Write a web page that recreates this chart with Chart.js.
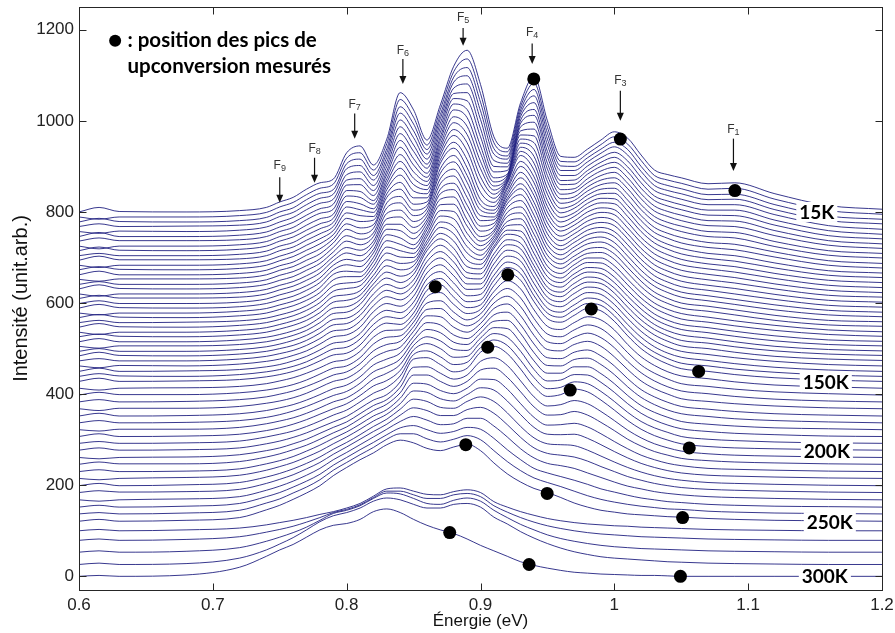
<!DOCTYPE html>
<html>
<head>
<meta charset="utf-8">
<script src="https://cdn.jsdelivr.net/npm/chart.js@4.4.1/dist/chart.umd.min.js"></script>
<style>
  html, body { margin: 0; padding: 0; background: #fff; }
  canvas { display: block; }
</style>
</head>
<body>
<canvas id="chart" width="895" height="633"></canvas>
<script>
// Energies (eV) at which every spectrum is read
const energies = [0.60, 0.615, 0.63, 0.68, 0.72,
  0.74, 0.75, 0.76, 0.77, 0.78, 0.79, 0.80, 0.81, 0.82, 0.83, 0.84, 0.85, 0.86, 0.87, 0.88, 0.89,
  0.90, 0.91, 0.92, 0.93, 0.94, 0.95, 0.96, 0.97, 0.98, 0.99, 1.00, 1.01, 1.02, 1.03, 1.04, 1.05,
  1.07, 1.09, 1.12, 1.16, 1.20];

// Vertical shift of each spectrum in the waterfall, top (15K) to bottom (300K)
const offsets = [800, 789, 778, 768, 757, 746, 736, 725, 715, 704, 694, 683, 673, 662, 652, 641, 631, 620,
  610, 599, 589, 578, 568, 557, 547, 536, 526, 515, 505, 494, 484, 473, 462, 450, 439, 428,
  413, 398, 383, 368, 352, 337, 322, 307, 292, 277,
  261, 246, 230, 215, 199, 184, 168, 152, 137, 121,
  100, 79, 53, 26, 0];

// Intensity above the shift, one row per spectrum (same order as offsets)
const spectra = [
  [0,10,1,0,3, 10,22,32,50,64,72, 130,145,103,160,262,224, 158,235,320,355,280,165, 140,240,298,200,122,120, 138,158,176,162,125,92,82,75, 62,64,40,14,6], // 15K
  [0,-5,0,0,3, 10,22,32,49,63,72, 129,141,103,161,258,219, 158,236,319,347,271,163, 143,243,294,197,122,121, 139,159,176,160,124,91,81,74, 61,63,39,14,6],
  [0,8,1,0,3, 10,22,31,49,63,71, 128,138,102,161,253,215, 159,236,318,339,263,161, 145,246,291,195,123,122, 141,160,175,159,122,91,80,73, 60,61,38,13,6],
  [0,6,0,1,3, 10,22,31,48,62,71, 127,134,102,162,249,210, 159,237,317,331,254,159, 148,249,287,192,123,123, 142,161,175,157,121,90,79,72, 59,60,37,13,6],
  [0,-4,1,0,3, 10,21,31,48,62,71, 125,131,101,163,245,206, 159,238,315,324,246,156, 150,253,283,190,123,123, 144,162,174,155,119,90,79,71, 59,59,37,13,5],
  [0,9,0,0,3, 10,21,31,47,61,71, 124,127,101,164,241,201, 159,239,314,316,237,154, 153,256,279,187,123,124, 145,163,174,153,118,89,78,70, 58,58,36,13,5],
  [0,7,1,1,3, 10,21,30,47,61,70, 123,124,100,164,236,197, 160,239,313,308,229,152, 155,259,276,185,124,125, 147,164,173,152,116,89,77,69, 57,56,35,12,5],
  [0,-6,0,0,3, 10,21,30,46,60,70, 122,120,100,165,232,192, 160,240,312,300,220,150, 158,262,272,182,124,126, 148,165,173,150,115,88,76,68, 56,55,34,12,5],
  [0,8,1,0,3, 10,21,30,45,59,71, 120,117,102,167,227,188, 161,242,309,292,214,151, 165,263,267,179,124,128, 149,165,172,148,114,87,75,66, 55,53,33,12,5],
  [0,5,0,0,3, 10,21,29,45,59,73, 119,114,103,169,222,184, 163,244,305,284,207,153, 173,265,263,176,125,129, 151,166,171,147,112,86,73,65, 53,51,31,11,5],
  [0,9,1,1,3, 10,21,29,44,58,74, 117,111,105,171,217,180, 164,246,302,276,201,154, 180,266,258,173,125,131, 152,166,170,145,111,85,72,63, 52,49,30,11,5],
  [0,-5,0,0,3, 10,20,29,44,58,76, 115,109,107,174,213,177, 166,249,298,269,194,156, 188,268,254,169,125,133, 154,167,169,143,109,83,70,61, 50,46,29,10,4],
  [0,7,1,0,3, 10,20,29,43,57,77, 113,106,109,176,208,173, 167,251,295,261,188,157, 195,269,249,166,125,135, 155,167,168,141,108,82,69,59, 49,44,28,10,4],
  [0,8,0,0,3, 10,20,28,43,57,79, 112,103,110,178,203,169, 169,253,291,253,181,159, 203,271,245,163,126,136, 157,168,167,140,106,81,67,58, 47,42,26,9,4],
  [0,-4,1,1,3, 10,20,28,42,56,80, 110,100,112,180,198,165, 170,255,288,245,175,160, 210,272,240,160,126,138, 158,168,166,138,105,80,66,56, 46,40,25,9,4],
  [0,6,0,0,3, 10,20,28,41,56,81, 107,99,113,179,193,163, 173,254,283,239,174,163, 214,270,236,159,126,139, 159,168,164,136,103,79,65,55, 45,39,24,9,4],
  [0,9,1,0,3, 10,19,27,41,56,81, 105,97,115,178,189,161, 176,254,279,234,173,166, 219,269,233,157,127,140, 159,168,163,134,102,77,63,53, 44,37,23,8,3],
  [0,-5,0,0,3, 10,19,27,40,56,82, 102,96,116,177,184,159, 179,253,274,228,172,169, 223,267,229,156,127,141, 160,168,161,132,100,76,62,52, 43,36,22,8,3],
  [0,7,1,1,3, 10,19,27,40,56,83, 100,94,118,175,179,156, 181,252,269,222,171,173, 227,265,226,154,127,142, 160,167,160,131,99,74,60,50, 41,34,21,7,3],
  [0,6,0,0,3, 10,19,27,39,56,84, 97,93,119,174,174,154, 184,251,264,216,170,176, 231,263,222,153,127,143, 161,167,158,129,97,73,59,49, 40,33,20,7,3],
  [0,8,1,0,3, 10,18,26,39,56,84, 95,91,121,173,170,152, 187,251,260,211,169,179, 236,262,219,151,128,144, 161,167,157,127,96,71,57,47, 39,31,19,6,2],
  [0,-4,0,0,4, 10,18,26,38,56,85, 92,90,122,172,165,150, 190,250,255,205,168,182, 240,260,215,150,128,145, 162,167,155,125,94,70,56,46, 38,30,18,6,2],
  [0,7,1,0,4, 10,18,26,38,55,83, 90,90,123,169,161,151, 193,248,249,201,168,187, 241,257,211,149,128,146, 162,166,153,123,92,69,55,45, 37,29,17,6,2],
  [0,5,0,1,4, 10,17,25,37,55,81, 87,91,124,166,158,152, 196,246,244,196,169,191, 242,254,208,148,129,146, 162,165,151,121,91,67,53,43, 36,28,16,5,2],
  [0,8,1,0,4, 10,17,25,37,54,79, 85,91,125,163,154,153, 199,244,238,192,169,196, 243,251,204,147,129,147, 162,164,149,119,89,66,52,42, 35,27,15,5,2],
  [0,-5,0,0,4, 10,17,25,36,54,78, 82,91,125,159,151,155, 201,242,232,188,169,201, 243,249,201,145,129,148, 163,163,146,116,87,64,50,41, 33,25,15,5,1],
  [0,6,1,0,4, 10,17,25,36,53,76, 80,91,126,156,147,156, 204,240,226,184,169,206, 244,246,197,144,129,149, 163,162,144,114,85,63,49,39, 32,24,14,5,1],
  [0,7,0,0,4, 10,16,24,35,53,74, 77,92,127,153,144,157, 207,238,221,179,170,210, 245,243,194,143,130,149, 163,161,142,112,84,61,47,38, 31,23,13,4,1],
  [0,-4,1,1,4, 10,16,24,35,52,72, 75,92,128,150,140,158, 210,236,215,175,170,215, 246,240,190,142,130,150, 163,160,140,110,82,60,46,37, 30,22,12,4,1],
  [0,6,0,0,4, 10,16,24,35,51,70, 73,90,126,147,138,157, 209,233,211,173,170,214, 245,237,188,141,130,149, 163,159,139,109,81,59,45,36, 29,21,11,4,1],
  [0,8,1,0,4, 10,16,23,34,50,68, 71,89,123,144,136,156, 207,229,206,171,169,214, 244,235,186,141,130,149, 162,159,138,107,79,58,44,34, 28,20,11,4,1],
  [0,5,0,0,4, 10,16,23,34,49,66, 69,87,121,141,134,155, 206,226,202,169,169,213, 243,232,184,140,130,148, 162,158,137,106,78,57,43,33, 27,19,10,4,1],
  [0,-4,1,0,4, 10,15,23,33,48,64, 68,85,119,137,131,153, 204,222,198,168,169,212, 241,230,181,140,130,147, 161,157,135,104,76,55,41,32, 25,18,10,3,0],
  [0,7,0,1,4, 10,15,23,33,47,62, 66,83,117,134,129,152, 203,219,194,166,169,211, 240,227,179,139,130,146, 161,156,134,103,75,54,40,31, 24,17,9,3,0],
  [0,6,1,0,4, 10,15,22,32,46,60, 64,82,114,131,127,151, 201,215,189,164,168,211, 239,225,177,139,130,146, 160,156,133,101,73,53,39,29, 23,16,9,3,0],
  [0,7,0,1,4, 10,15,22,32,45,58, 62,80,112,128,125,150, 200,212,185,162,168,210, 238,222,175,138,130,145, 160,155,132,100,72,52,38,28, 22,15,8,3,0], // 150K
  [0,-4,0,1,4, 10,16,23,33,45,58, 63,81,112,127,128,155, 201,210,184,164,173,212, 236,218,172,136,129,144, 157,150,128,96,69,50,36,27, 21,14,7,3,0],
  [0,6,1,1,5, 11,16,23,33,46,59, 64,82,112,127,130,160, 202,207,182,165,178,215, 234,213,168,134,128,143, 154,146,123,93,66,48,35,25, 19,13,7,3,0],
  [0,5,0,1,5, 11,17,24,34,46,59, 66,84,112,126,133,165, 203,205,181,167,182,217, 232,209,165,132,128,142, 151,141,119,89,64,46,33,24, 18,12,6,2,0],
  [0,-4,1,1,5, 12,17,24,34,47,60, 67,85,112,126,135,170, 204,202,179,168,187,220, 230,204,161,130,127,141, 148,137,114,86,61,44,32,22, 16,11,6,2,0],
  [0,6,0,1,5, 12,18,25,35,47,60, 68,86,112,125,138,175, 205,200,178,170,192,222, 228,200,158,128,126,140, 145,132,110,82,58,42,30,21, 15,10,5,2,0],
  [0,5,0,1,5, 12,18,26,36,48,60, 69,87,112,124,140,180, 205,198,177,172,197,223, 225,196,154,126,125,139, 142,128,106,79,56,40,28,20, 14,9,5,2,0],
  [0,-3,1,1,5, 13,19,26,36,48,61, 70,88,111,124,143,185, 204,195,176,174,201,224, 222,191,151,124,124,138, 138,123,101,75,53,38,27,18, 12,8,4,2,0],
  [0,6,0,1,5, 13,19,27,37,49,61, 72,90,111,123,145,190, 204,193,174,176,206,226, 218,187,147,122,124,136, 135,119,97,72,51,36,25,17, 11,7,4,1,0],
  [0,4,0,1,5, 14,20,27,37,49,62, 73,91,110,123,148,195, 203,190,173,178,210,227, 215,182,144,120,123,135, 131,114,92,68,48,34,24,15, 9,6,3,1,0],
  [0,5,0,1,5, 14,20,28,38,50,62, 74,92,110,122,150,200, 203,188,172,180,215,228, 212,178,140,118,122,134, 128,110,88,65,46,32,22,14, 8,5,3,1,0], // 200K
  [0,-3,0,1,6, 15,21,30,40,53,66, 78,96,114,127,154,198, 199,185,172,181,211,219, 202,168,133,113,116,125, 118,101,81,60,43,30,21,14, 8,5,3,1,0],
  [0,5,1,1,6, 16,23,32,42,55,69, 82,100,118,132,157,196, 196,182,171,182,207,211, 191,159,126,108,109,116, 108,92,74,55,40,28,20,13, 8,5,3,1,0],
  [0,4,0,1,6, 17,24,33,45,58,73, 87,104,122,136,161,194, 192,178,171,183,203,202, 181,149,119,102,103,106, 98,83,66,50,36,26,18,13, 7,5,3,1,0],
  [0,-3,0,2,7, 18,26,35,47,60,76, 91,108,126,141,164,192, 189,175,170,184,199,194, 170,140,112,97,96,97, 88,74,59,45,33,24,17,12, 7,5,3,1,0],
  [0,5,0,2,7, 19,27,37,49,63,80, 95,112,130,146,168,190, 185,172,170,185,195,185, 160,130,105,92,90,88, 78,65,52,40,30,22,16,12, 7,5,3,1,0],
  [0,4,1,2,7, 20,29,39,52,66,84, 100,117,134,150,170,186, 180,169,169,182,187,174, 149,121,98,86,82,78, 69,57,46,35,27,20,15,11, 7,5,3,1,0],
  [0,-3,0,2,7, 21,30,41,54,69,88, 104,121,138,155,172,183, 175,165,167,179,179,162, 138,112,92,80,75,69, 59,49,39,30,24,18,14,11, 7,5,3,1,0],
  [0,4,0,2,8, 23,32,44,57,72,92, 109,126,142,159,174,179, 170,162,166,175,171,151, 126,104,85,75,67,59, 50,40,33,26,20,16,12,10, 6,4,2,1,0],
  [0,3,0,2,8, 24,33,46,59,75,96, 113,130,146,164,176,176, 165,158,164,172,163,139, 115,95,79,69,60,50, 40,32,26,21,17,14,11,10, 6,4,2,1,0],
  [0,4,0,2,8, 25,35,48,62,78,100, 118,135,150,168,178,172, 160,155,163,169,155,128, 104,86,72,63,52,40, 31,24,20,16,14,12,10,9, 6,4,2,1,0], // 250K
  [0,3,0,2,6, 13,18,23,29,36,42, 50,60,76,92,94,87, 80,79,86,90,84,64, 52,42,34,27,22,18, 15,13,11,10,8,7,6,5, 3,2,1,0,0],
  [0,3,0,2,8, 18,24,31,40,50,61, 68,78,94,108,108,100, 92,92,100,103,96,76, 62,50,40,32,26,21, 17,14,12,10,8,7,6,5, 3,2,1,0,0],
  [0,3,0,2,10, 24,33,43,55,70,85, 92,102,118,130,128,118, 107,105,114,119,112,92, 76,61,49,38,30,24, 19,15,12,10,8,7,6,5, 3,2,1,0,0],
  [0,3,0,2,14, 32,45,59,76,94,107, 114,124,139,146,142,132, 124,124,132,134,126,104, 89,72,58,46,36,28, 22,17,14,12,10,8,6,5, 3,2,1,0,0],
  [0,2,0,3,20, 44,58,70,86,102,112, 116,125,142,148,140,125, 112,102,94,82,68,56, 44,32,24,18,13,9, 7,5,4,3,2,2,1,0, 0,0,0,0,0]  // 300K
];

// Measured upconversion peak positions (black dots)
const peakX = [0.9398, 1.0045, 1.0901, 0.8662, 0.9204, 0.9828, 0.9054, 1.063, 0.967, 0.889, 1.056, 0.9498, 1.051, 0.877, 0.9363, 1.0494];
const peakY = [1092, 960, 847, 636, 662, 587, 503, 450, 409, 289, 282, 182, 129, 96, 26, 0];

// Temperature labels at the right end of some spectra
const tempLabels = ['15K', '150K', '200K', '250K', '300K'];
const tempLabelX = [1.1513, 1.1580, 1.1588, 1.1610, 1.1573];
const tempLabelY = [800, 427, 276, 119, 1];

// Feature arrows F9 ... F1
const featureIdx = ['9', '8', '7', '6', '5', '4', '3', '1'];
const featureX = [0.750, 0.776, 0.806, 0.842, 0.887, 0.9386, 1.0045, 1.089];
const featureLabelY = [902, 939, 1035, 1154, 1226, 1194, 1088, 980];
const featureArrowTop = [876, 919, 1016, 1136, 1204, 1170, 1066, 961];
const featureArrowEnd = [820, 864, 961, 1081, 1165, 1125, 1000, 890];

const xTicks = [0.6, 0.7, 0.8, 0.9, 1.0, 1.1, 1.2];
const yTicks = [0, 200, 400, 600, 800, 1000, 1200];

const curveSets = spectra.map((row, k) => ({
  data: row.map((v, i) => ({ x: energies[i], y: offsets[k] + v })),
  borderColor: 'rgba(34,34,130,0.9)',
  borderWidth: 1,
  pointRadius: 0,
  cubicInterpolationMode: 'monotone',
  order: 2
}));

const dotSet = {
  data: peakX.map((x, i) => ({ x: x, y: peakY[i] })),
  showLine: false,
  pointRadius: 6.5,
  pointBackgroundColor: '#000',
  pointBorderWidth: 0,
  order: 1
};

const axisFont = 'Liberation Sans, Arial, sans-serif';

const decor = {
  id: 'decor',
  afterDatasetsDraw(chart) {
    const { ctx, scales: { x, y } } = chart;
    ctx.save();

    // temperature labels on white boxes
    ctx.font = 'bold 19px Lato';
    ctx.textAlign = 'center';
    ctx.textBaseline = 'middle';
    tempLabels.forEach((t, i) => {
      const cx = x.getPixelForValue(tempLabelX[i]);
      const cy = y.getPixelForValue(tempLabelY[i]);
      const w = ctx.measureText(t).width;
      ctx.fillStyle = '#fff';
      ctx.fillRect(cx - w / 2 - 3, cy - 10, w + 6, 20);
      ctx.fillStyle = '#000';
      ctx.fillText(t, cx, cy + 1);
    });

    // F labels and arrows
    featureIdx.forEach((n, i) => {
      const cx = x.getPixelForValue(featureX[i]);
      const ly = y.getPixelForValue(featureLabelY[i]);
      const y0 = y.getPixelForValue(featureArrowTop[i]);
      const y1 = y.getPixelForValue(featureArrowEnd[i]);
      ctx.font = '12px ' + axisFont;
      const wF = ctx.measureText('F').width;
      ctx.font = '9px ' + axisFont;
      const wN = ctx.measureText(n).width;
      const left = cx - (wF + wN) / 2;
      ctx.fillStyle = '#333';
      ctx.textAlign = 'left';
      ctx.textBaseline = 'middle';
      ctx.font = '12px ' + axisFont;
      ctx.fillText('F', left, ly);
      ctx.font = '9px ' + axisFont;
      ctx.fillText(n, left + wF, ly + 3);

      ctx.strokeStyle = '#111';
      ctx.fillStyle = '#111';
      ctx.lineWidth = 1.2;
      ctx.beginPath();
      ctx.moveTo(cx, y0);
      ctx.lineTo(cx, y1 - 5);
      ctx.stroke();
      ctx.beginPath();
      ctx.moveTo(cx - 3.5, y1 - 8);
      ctx.lineTo(cx + 3.5, y1 - 8);
      ctx.lineTo(cx, y1);
      ctx.closePath();
      ctx.fill();
    });

    // legend
    const lx = x.getPixelForValue(0.6270);
    const tx = x.getPixelForValue(0.6362);
    const l1 = y.getPixelForValue(1176);
    const l2 = y.getPixelForValue(1119);
    ctx.fillStyle = '#000';
    ctx.beginPath();
    ctx.arc(lx, l1, 6, 0, Math.PI * 2);
    ctx.fill();
    ctx.font = 'bold 20.5px Lato';
    ctx.textAlign = 'left';
    ctx.textBaseline = 'middle';
    ctx.fillText(': position des pics de', tx, l1);
    ctx.fillText('upconversion mesurés', tx, l2);
    ctx.restore();
  },
  afterDraw(chart) {
    const { ctx, chartArea: a, scales: { x, y } } = chart;
    ctx.save();
    ctx.strokeStyle = '#262626';
    ctx.lineWidth = 1;
    const L = Math.round(a.left) + 0.5, R = Math.round(a.right) + 0.5;
    const T = Math.round(a.top) + 0.5, B = Math.round(a.bottom) + 0.5;
    ctx.strokeRect(L, T, R - L, B - T);
    ctx.beginPath();
    xTicks.forEach(v => {
      const p = Math.round(x.getPixelForValue(v)) + 0.5;
      ctx.moveTo(p, B); ctx.lineTo(p, B - 7);
      ctx.moveTo(p, T); ctx.lineTo(p, T + 7);
    });
    yTicks.forEach(v => {
      const p = Math.round(y.getPixelForValue(v)) + 0.5;
      ctx.moveTo(L, p); ctx.lineTo(L + 7, p);
      ctx.moveTo(R, p); ctx.lineTo(R - 7, p);
    });
    ctx.stroke();

    // axis titles
    ctx.fillStyle = '#111';
    ctx.font = '17px ' + axisFont;
    ctx.textAlign = 'center';
    ctx.textBaseline = 'middle';
    ctx.fillText('Énergie (eV)', (a.left + a.right) / 2, 621);
    ctx.font = '20px ' + axisFont;
    ctx.translate(21, (a.top + a.bottom) / 2);
    ctx.rotate(-Math.PI / 2);
    ctx.fillText('Intensité (unit.arb.)', 0, 0);
    ctx.restore();
  }
};

new Chart(document.getElementById('chart'), {
  type: 'line',
  data: { datasets: curveSets.concat([dotSet]) },
  options: {
    responsive: false,
    animation: false,
    events: [],
    layout: { padding: { top: 7, right: 13, bottom: 0, left: 0 } },
    plugins: { legend: { display: false }, tooltip: { enabled: false } },
    scales: {
      x: {
        type: 'linear', min: 0.6, max: 1.2,
        afterBuildTicks: s => { s.ticks = xTicks.map(v => ({ value: v })); },
        afterFit: s => { s.height = 43; s.paddingLeft = 0; s.paddingRight = 0; },
        grid: { display: false, drawTicks: false },
        border: { display: false },
        ticks: {
          padding: 5, color: '#222', maxRotation: 0, autoSkip: false,
          font: { family: axisFont, size: 17 },
          callback: v => String(Math.round(v * 10) / 10)
        }
      },
      y: {
        type: 'linear', min: -30, max: 1250,
        afterBuildTicks: s => { s.ticks = yTicks.map(v => ({ value: v })); },
        afterFit: s => { s.width = 79; s.paddingTop = 0; s.paddingBottom = 0; },
        grid: { display: false, drawTicks: false },
        border: { display: false },
        ticks: {
          padding: 5, color: '#222',
          font: { family: axisFont, size: 17 },
          callback: v => String(v)
        }
      }
    }
  },
  plugins: [decor]
});
</script>
</body>
</html>
